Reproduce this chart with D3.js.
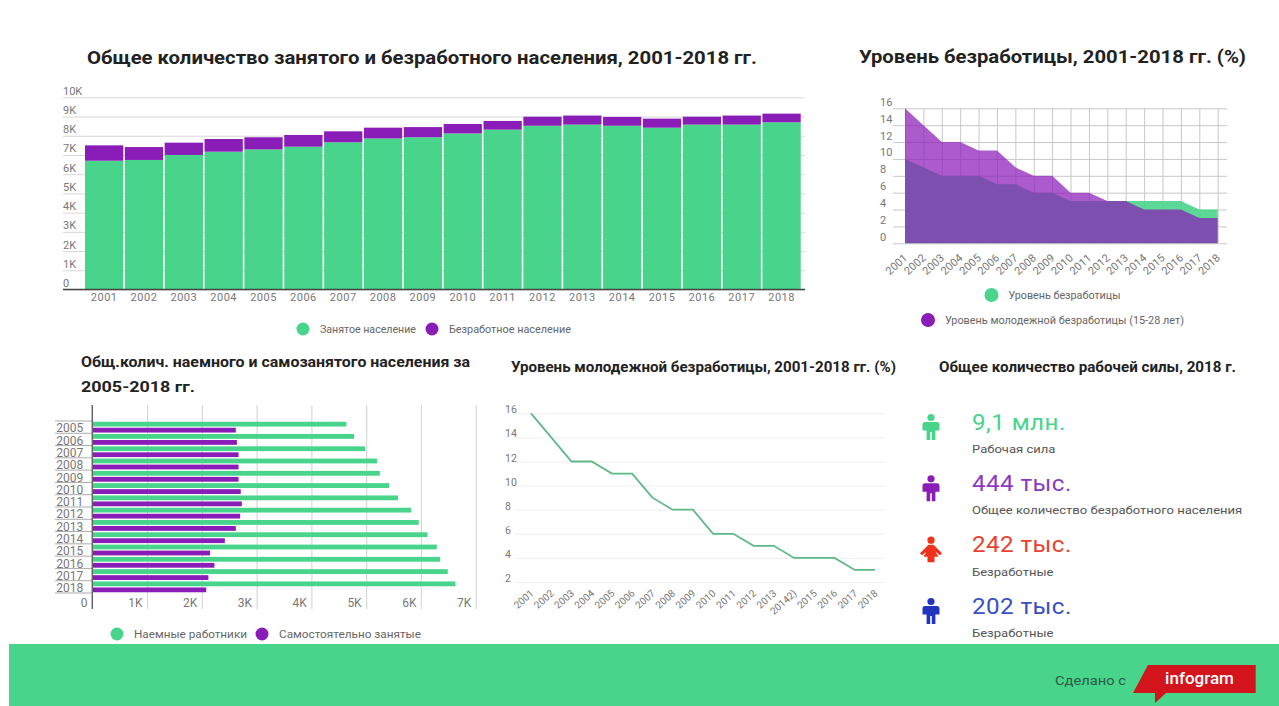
<!DOCTYPE html>
<html>
<head>
<meta charset="utf-8">
<script src="https://cdn.jsdelivr.net/npm/d3@7"></script>
<style>
  html, body { margin: 0; padding: 0; background: #fff; overflow: hidden; }
  svg { display: block; font-family: Roboto, sans-serif; }
  .title { font-weight: 700; fill: #222; }
  .tick-label, .tick text { font-family: Roboto, sans-serif; fill: #777; }
  .legend { font-size: 11px; fill: #666; }
</style>
</head>
<body>
<svg id="chart" width="1279" height="706"></svg>
<script>
// Colours
var GREEN = '#49d48b';
var PURPLE = '#8a1cb8';

// Years for the stacked bars and the two rate charts
var years = ['2001','2002','2003','2004','2005','2006','2007','2008','2009','2010','2011','2012','2013','2014','2015','2016','2017','2018'];
// Same years, but the youth chart prints its 2014 label with a footnote mark
var youthLabels = ['2001','2002','2003','2004','2005','2006','2007','2008','2009','2010','2011','2012','2013','20142)','2015','2016','2017','2018'];

// Employed and unemployed population (thousands)
var employed = [6700,6740,7000,7170,7290,7430,7660,7860,7920,8120,8320,8520,8580,8520,8420,8580,8580,8700];
var unemployed = [800,670,640,660,630,610,570,560,530,490,450,470,470,460,470,410,470,450];
var stackTicks = [0,1000,2000,3000,4000,5000,6000,7000,8000,9000,10000];

// Unemployment rates (%)
var unemploymentRate = [10,9,8,8,8,7,7,6,6,5,5,5,5,5,5,5,4,4];
var youthRate = [16,14,12,12,11,11,9,8,8,6,6,5,5,4,4,4,3,3];
var rateTicks = [0,2,4,6,8,10,12,14,16];
var youthTicks = [2,4,6,8,10,12,14,16];

// Hired and self-employed population, 2005-2018 (thousands)
var hiredYears = ['2005','2006','2007','2008','2009','2010','2011','2012','2013','2014','2015','2016','2017','2018'];
var hired = [4640,4780,4980,5200,5250,5420,5580,5820,5960,6120,6290,6350,6490,6630];
var selfEmployed = [2620,2640,2670,2670,2670,2710,2730,2700,2620,2420,2150,2230,2120,2080];
var hiredTicks = [1000,2000,3000,4000,5000,6000,7000];

// Labour force numbers for 2018
var statValues = ['9,1 млн.','444 тыс.','242 тыс.','202 тыс.'];
var statLabels = ['Рабочая сила','Общее количество безработного населения','Безработные','Безработные'];
var statColors = ['#49d48b','#8a3cc0','#e8432e','#3a4fc4'];
var statIconColors = ['#49d48b','#8a1cb8','#f0321c','#2233c0'];
var statFemale = [false,false,true,false];

var kFormat = function(d) { return d === 0 ? '0' : (d / 1000) + 'K'; };
var svg = d3.select('#chart');

// The original screenshot is stretched sideways, so text gets an explicit width
function stretched(sel, width) {
  return sel.attr('textLength', width).attr('lengthAdjust', 'spacingAndGlyphs');
}

function title(text, x, y, size, width) {
  svg.append('text').attr('class', 'title').attr('x', x).attr('y', y)
    .style('font-size', size + 'px').text(text)
    .call(stretched, width);
}

function legendItem(text, cx, cy, color, r, width) {
  svg.append('circle').attr('cx', cx).attr('cy', cy).attr('r', r).attr('fill', color);
  svg.append('text').attr('class', 'legend').attr('x', cx + 17).attr('y', cy + 4).text(text)
    .call(stretched, width);
}

// Strip the domain line and style what an axis call has drawn
function cleanAxis(g, size) {
  g.select('.domain').remove();
  g.selectAll('.tick text').style('font-size', size + 'px');
}

title('Общее количество занятого и безработного населения, 2001-2018 гг.', 87, 64, 18, 670);
title('Уровень безработицы, 2001-2018 гг. (%)', 859, 63, 18, 387);
title('Общ.колич. наемного и самозанятого населения за', 81, 367, 14, 389);
title('2005-2018 гг.', 81, 392, 14, 114);
title('Уровень молодежной безработицы, 2001-2018 гг. (%)', 511, 372, 14, 385);
title('Общее количество рабочей силы, 2018 г.', 939, 372, 14, 297);

// ---- Stacked bars: employed + unemployed
(function() {
  var x = d3.scaleBand().domain(years).range([84.2, 801.5]).paddingInner(0.04).paddingOuter(0.02);
  var y = d3.scaleLinear().domain([0, 10000]).range([289.5, 97.3]);

  var grid = svg.append('g').attr('transform', 'translate(63,0)')
    .call(d3.axisRight(y).tickValues(stackTicks).tickSize(742).tickFormat(kFormat));
  grid.select('.domain').remove();
  grid.selectAll('.tick line').attr('stroke', '#d8d8d8');
  grid.selectAll('.tick text').attr('x', 0).attr('dy', -3).attr('text-anchor', 'start').style('font-size', '11px');

  svg.append('g').selectAll('rect').data(years).join('rect')
    .attr('x', function(d) { return x(d); })
    .attr('width', x.bandwidth())
    .attr('y', function(d, i) { return y(employed[i]); })
    .attr('height', function(d, i) { return y(0) - y(employed[i]); })
    .attr('fill', GREEN);
  svg.append('g').selectAll('rect').data(years).join('rect')
    .attr('x', function(d) { return x(d); })
    .attr('width', x.bandwidth())
    .attr('y', function(d, i) { return y(employed[i] + unemployed[i]); })
    .attr('height', function(d, i) { return y(employed[i]) - y(employed[i] + unemployed[i]); })
    .attr('fill', PURPLE);

  var xAxis = svg.append('g').attr('transform', 'translate(0,289.5)')
    .call(d3.axisBottom(x).tickSize(0).tickPadding(4));
  cleanAxis(xAxis, 11);
  xAxis.selectAll('.tick text').style('letter-spacing', '0.5px');
  svg.append('line').attr('x1', 63).attr('x2', 805).attr('y1', 289.5).attr('y2', 289.5)
    .attr('stroke', '#444').attr('stroke-width', 1.3);

  legendItem('Занятое население', 303, 329, GREEN, 6.5, 96);
  legendItem('Безработное население', 432, 329, PURPLE, 6.5, 122);
})();

// ---- Overlapping areas: unemployment and youth unemployment
(function() {
  var x = d3.scalePoint().domain(years).range([905, 1217.7]);
  var y = d3.scaleLinear().domain([0, 16]).range([243.3, 108.3]);

  var hGrid = svg.append('g').attr('transform', 'translate(893,0)')
    .call(d3.axisRight(y).tickValues(rateTicks).tickSize(334));
  hGrid.select('.domain').remove();
  hGrid.selectAll('.tick line').attr('stroke', '#c8c8c8');
  hGrid.selectAll('.tick text').attr('x', -13).attr('dy', -3).attr('text-anchor', 'start').style('font-size', '11px');

  var vGrid = svg.append('g').attr('transform', 'translate(0,108.3)')
    .call(d3.axisBottom(x).tickSize(135).tickFormat(''));
  vGrid.select('.domain').remove();
  vGrid.selectAll('.tick line').attr('stroke', '#c8c8c8');

  var area = d3.area()
    .x(function(d, i) { return x(years[i]); })
    .y0(y(0))
    .y1(function(d) { return y(d); });

  svg.append('path').datum(unemploymentRate).attr('d', area).attr('fill', GREEN).attr('fill-opacity', 0.9);
  svg.append('path').datum(youthRate).attr('d', area).attr('fill', PURPLE).attr('fill-opacity', 0.72);

  var xAxis = svg.append('g').attr('transform', 'translate(0,243.3)')
    .call(d3.axisBottom(x).tickSize(0));
  cleanAxis(xAxis, 11);
  xAxis.selectAll('.tick text')
    .attr('text-anchor', 'end')
    .attr('transform', 'translate(-1,11.5) rotate(-42)')
    .attr('y', 0).attr('dy', '0.5em');

  legendItem('Уровень безработицы', 991.5, 295, GREEN, 7, 112);
  legendItem('Уровень молодежной безработицы (15-28 лет)', 928, 320, PURPLE, 7, 239);
})();

// ---- Horizontal bars: hired and self-employed
(function() {
  var x = d3.scaleLinear().domain([0, 7000]).range([92.3, 475.7]);
  var y = d3.scaleBand().domain(hiredYears).range([421, 593]);
  var barH = 4.8;

  var grid = svg.append('g').attr('transform', 'translate(0,405)')
    .call(d3.axisBottom(x).tickValues(hiredTicks).tickSize(204).tickFormat(kFormat));
  grid.select('.domain').remove();
  grid.selectAll('.tick line').attr('stroke', '#d8d8d8').attr('stroke-width', 1.2);
  grid.selectAll('.tick text').attr('text-anchor', 'end').attr('x', -5).attr('y', 197.7).attr('dy', '0.36em').style('font-size', '12px');

  svg.append('text').attr('class', 'tick-label').attr('x', 87.5).attr('y', 607).attr('text-anchor', 'end')
    .style('font-size', '12px').text('0');

  svg.append('g').selectAll('rect').data(hiredYears).join('rect')
    .attr('x', x(0))
    .attr('y', function(d) { return y(d) + y.bandwidth() / 2 - barH - 0.6; })
    .attr('width', function(d, i) { return x(hired[i]) - x(0); })
    .attr('height', barH)
    .attr('fill', GREEN);
  svg.append('g').selectAll('rect').data(hiredYears).join('rect')
    .attr('x', x(0))
    .attr('y', function(d) { return y(d) + y.bandwidth() / 2 + 0.6; })
    .attr('width', function(d, i) { return x(selfEmployed[i]) - x(0); })
    .attr('height', barH)
    .attr('fill', PURPLE);

  // year labels sit between long tick lines drawn on the band edges
  var yAxis = svg.append('g').attr('transform', 'translate(92.3,1.5)')
    .call(d3.axisLeft(y).tickSize(0).tickPadding(9));
  cleanAxis(yAxis, 12);
  svg.append('g').selectAll('line').data(hiredYears.concat(['end'])).join('line')
    .attr('x1', 55).attr('x2', 92.3)
    .attr('y1', function(d, i) { return y.range()[0] + i * y.step(); })
    .attr('y2', function(d, i) { return y.range()[0] + i * y.step(); })
    .attr('stroke', '#aaa');
  svg.append('line').attr('x1', 92.3).attr('x2', 92.3).attr('y1', 405).attr('y2', 609)
    .attr('stroke', '#666').attr('stroke-width', 1.5);

  legendItem('Наемные работники', 117, 634, GREEN, 6.5, 113);
  legendItem('Самостоятельно занятые', 262, 634, PURPLE, 6.5, 142);
})();

// ---- Line: youth unemployment
(function() {
  var x = d3.scalePoint().domain(youthLabels).range([531, 875]);
  var y = d3.scaleLinear().domain([2, 16]).range([582, 413.3]);

  var grid = svg.append('g').attr('transform', 'translate(515,0)')
    .call(d3.axisRight(y).tickValues(youthTicks).tickSize(370));
  grid.select('.domain').remove();
  grid.selectAll('.tick line').attr('stroke', '#eeeeee');
  grid.selectAll('.tick text').attr('x', -10).attr('dy', -0.5).attr('text-anchor', 'start').style('font-size', '10.5px');

  var line = d3.line()
    .x(function(d, i) { return x(youthLabels[i]); })
    .y(function(d) { return y(d); });

  svg.append('path').datum(youthRate).attr('d', line)
    .attr('fill', 'none').attr('stroke', '#5fb888').attr('stroke-width', 1.8);

  var xAxis = svg.append('g').attr('transform', 'translate(0,582)')
    .call(d3.axisBottom(x).tickSize(0));
  cleanAxis(xAxis, 10);
  xAxis.selectAll('.tick text')
    .attr('text-anchor', 'end')
    .attr('transform', 'translate(-0.5,8.5) rotate(-42)')
    .attr('y', 0).attr('dy', '0.5em');
})();

// ---- Big numbers with person icons
(function() {
  var y = d3.scalePoint().domain(d3.range(statValues.length)).range([422, 606]);

  var rows = svg.append('g').selectAll('g').data(statValues).join('g')
    .attr('transform', function(d, i) { return 'translate(0,' + y(i) + ')'; });

  rows.append('text').attr('transform', 'translate(972,7.5) scale(1.1,1)')
    .style('font-size', '22px').style('letter-spacing', '0.4px')
    .attr('fill', function(d, i) { return statColors[i]; })
    .text(function(d) { return d; });
  rows.append('text').attr('transform', 'translate(972,31) scale(1.134,1)')
    .style('font-size', '11.5px').attr('fill', '#555')
    .text(function(d, i) { return statLabels[i]; });

  var icons = rows.append('g').attr('transform', 'translate(931,5)')
    .attr('fill', function(d, i) { return statIconColors[i]; });
  icons.append('circle').attr('cx', 0).attr('cy', -9.5).attr('r', 3.6);
  icons.append('path').attr('d', function(d, i) {
    return statFemale[i]
      ? 'M-2.5-5H2.5L11 3.5 9 5.5 4.5 2 7.5 7H3.5V12.5H-3.5V7H-7.5L-4.5 2-9 5.5-11 3.5Z'
      : 'M-6-5H6Q8.5-5 8.5-2.5V3.5H4.4V13H.8V5H-.8V13H-4.4V3.5H-8.5V-2.5Q-8.5-5-6-5Z';
  });
})();

// ---- Footer
svg.append('rect').attr('x', 9).attr('y', 644).attr('width', 1270).attr('height', 62).attr('fill', GREEN);
svg.append('text').attr('x', 1055).attr('y', 684.5).style('font-size', '13.5px').attr('fill', '#2b5a45').text('Сделано с')
  .call(stretched, 71);
svg.append('path').attr('d', 'M1148 665H1255.7V693H1166L1155 703V693H1133Z').attr('fill', '#d3141c');
svg.append('text').attr('x', 1199.5).attr('y', 684).attr('text-anchor', 'middle')
  .style('font-size', '17px').style('font-weight', 500).attr('fill', '#fff').text('infogram');
</script>
</body>
</html>
